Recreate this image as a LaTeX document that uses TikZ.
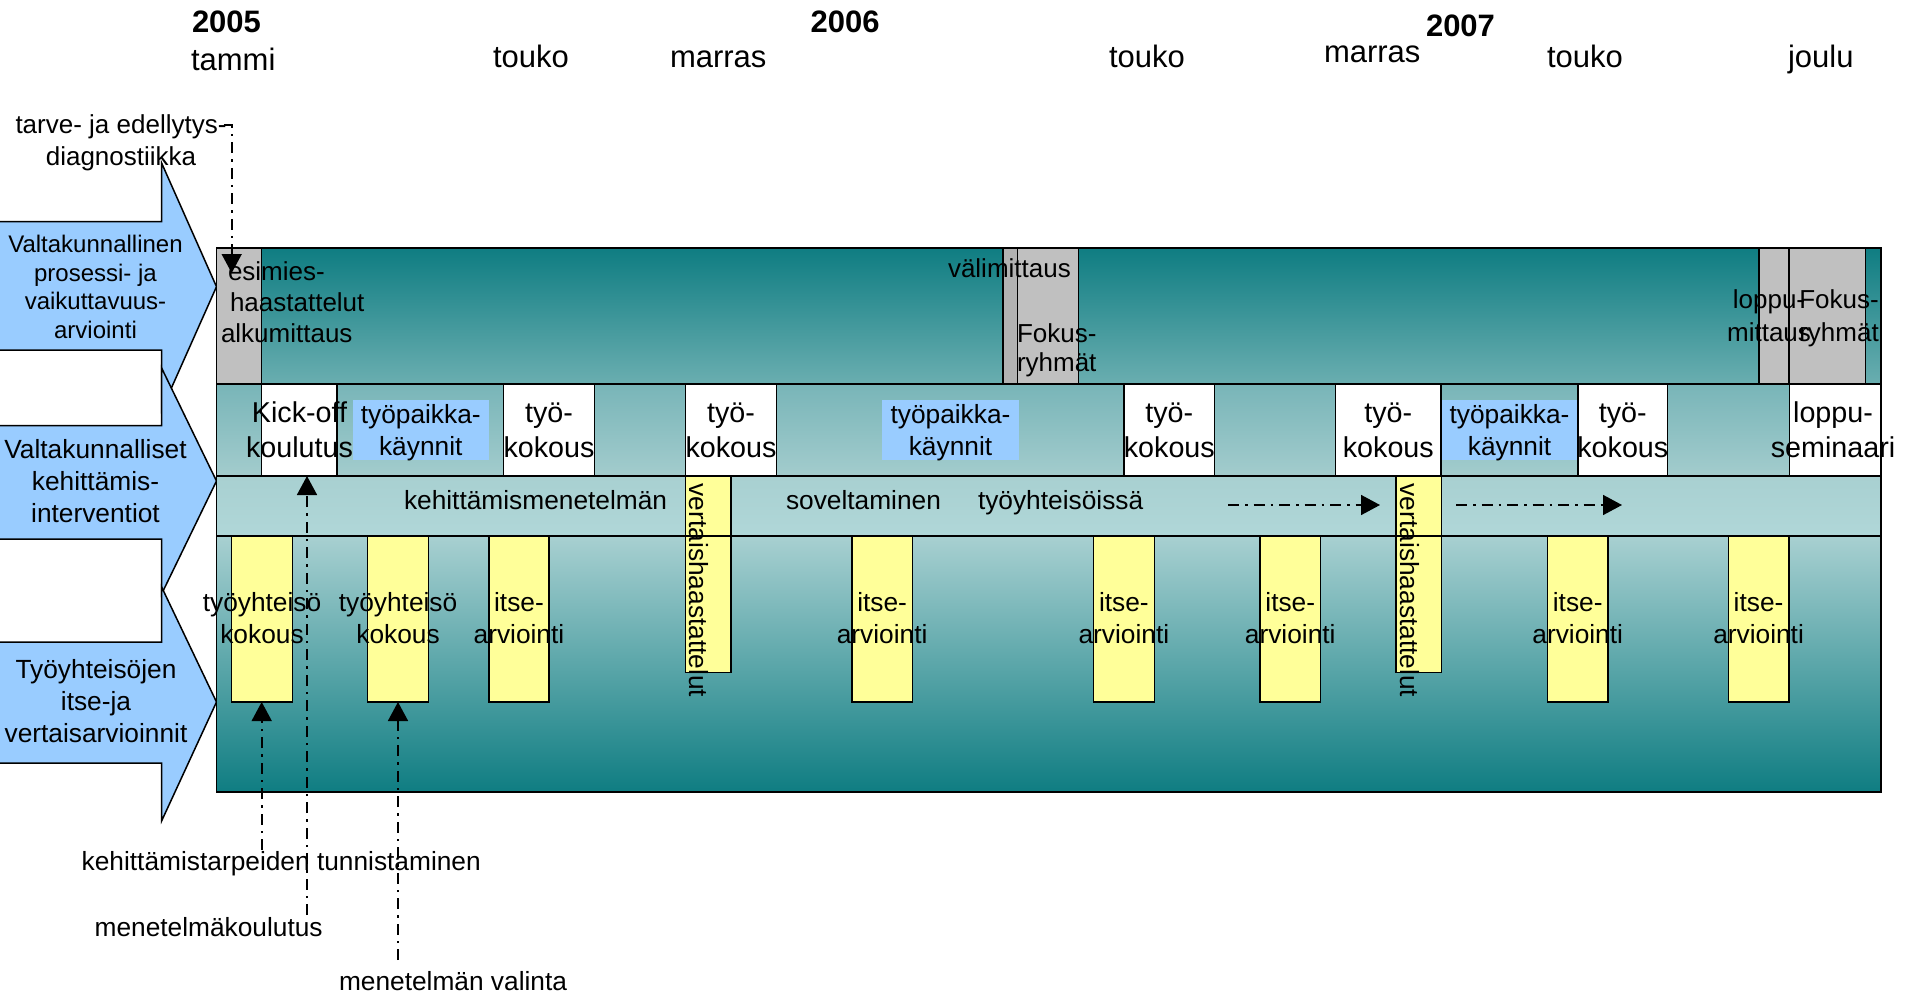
\documentclass[tikz,border=0pt]{standalone}
\usepackage{fontspec}
\setmainfont{Liberation Sans}
\usetikzlibrary{arrows.meta,fit}
\definecolor{tealD}{RGB}{15,125,130}
\definecolor{tealB}{RGB}{106,174,176}
\definecolor{tealC}{RGB}{120,181,184}
\definecolor{tealE}{RGB}{163,204,205}
\definecolor{tealF}{RGB}{168,208,209}
\definecolor{tealG}{RGB}{176,215,216}
\definecolor{ablue}{RGB}{153,204,255}
\definecolor{yel}{RGB}{255,255,153}
\definecolor{grayA}{RGB}{192,192,192}
\definecolor{grayB}{RGB}{178,178,178}
\tikzset{
  tx/.style={inner sep=0pt, outer sep=0pt, text=black},
  fa/.style={tx, font={\fontsize{24}{28.4}\selectfont}},
  fb/.style={tx, font={\fontsize{26.3}{32}\selectfont}},
  fc/.style={tx, font={\fontsize{28.7}{35.7}\selectfont}},
  fm/.style={tx, font={\fontsize{31}{36}\selectfont}},
  fy/.style={tx, font={\fontsize{31}{36}\selectfont\bfseries}},
  bxbase/.style={inner sep=0pt, outer sep=0pt, line width=1.5pt},
  gbox/.style={bxbase, draw=black, fill=grayA},
  gboxb/.style={bxbase, draw=black, fill=grayB},
  wbox/.style={bxbase, draw=black, fill=white},
  bbox/.style={bxbase, fill=ablue},
  ybox/.style={bxbase, draw=black, fill=yel},
  bigarrow/.style={draw=black, fill=ablue, line width=1.5pt},
  dd/.style={line width=1.6pt, dash pattern=on 11pt off 6pt on 2.5pt off 6pt},
  arr/.style={-{Triangle[length=19pt,width=20pt]}},
}
\begin{document}
\begin{tikzpicture}[x=1pt,y=-1pt]
\useasboundingbox (0,0) rectangle (1905,996);

% ---- left block arrows
\draw[bigarrow] (-5,221.7) -- (161.6,221.7) -- (161.6,163) -- (216.5,286.7) -- (161.6,410) -- (161.6,350) -- (-5,350) -- cycle;
\draw[bigarrow] (-5,425.7) -- (161.6,425.7) -- (161.6,368) -- (216.5,481) -- (161.6,594) -- (161.6,539) -- (-5,539) -- cycle;
\draw[bigarrow] (-5,642) -- (161.6,642) -- (161.6,587) -- (216.5,702) -- (161.6,821) -- (161.6,763) -- (-5,763) -- cycle;

% ---- bands of the main box
\shade[top color=tealD, bottom color=tealB] (216.5,248) rectangle (1881,384);
\shade[top color=tealC, bottom color=tealE] (216.5,384) rectangle (1881,476);
\shade[top color=tealF, bottom color=tealG] (216.5,476) rectangle (1881,536);
\shade[top color=tealF, bottom color=tealD] (216.5,536) rectangle (1881,792);

% ---- grey measurement boxes
\node[gbox,  fit={(216.5,248) (261.5,384)}] (g1) {};
\node[gboxb, fit={(1003,248) (1017.5,384)}] (g2) {};
\node[gbox,  fit={(1017.5,248) (1078.5,384)}] (g3) {};
\node[gbox,  fit={(1759,248) (1789,384)}] (g4) {};
\node[gbox,  fit={(1789,248) (1865.5,384)}] (g5) {};

% ---- white boxes
\node[wbox, fit={(261.5,384) (337,476)}] (w1) {};
\node[wbox, fit={(503.5,384) (594.5,476)}] (w2) {};
\node[wbox, fit={(685.5,384) (776.5,476)}] (w3) {};
\node[wbox, fit={(1124,384) (1214.5,476)}] (w4) {};
\node[wbox, fit={(1335.5,384) (1441,476)}] (w5) {};
\node[wbox, fit={(1578,384) (1667.5,476)}] (w6) {};
\node[wbox, fit={(1789.5,384) (1881,476)}] (w7) {};

% ---- blue boxes
\node[bbox, fit={(352.7,400) (488.8,460)}] (b1) {};
\node[bbox, fit={(882,400) (1019,460)}] (b2) {};
\node[bbox, fit={(1442,400) (1577,460)}] (b3) {};

% ---- peer interview boxes
\node[ybox, fit={(685.7,476) (731,672.3)}] (v1) {};
\node[ybox, fit={(1396,476) (1441.3,672.3)}] (v2) {};

% ---- self assessment boxes
\node[ybox, fit={(231.5,536) (292.5,702)}] (y1) {};
\node[ybox, fit={(367.5,536) (428.6,702)}] (y2) {};
\node[ybox, fit={(488.8,536) (549.1,702)}] (y3) {};
\node[ybox, fit={(851.8,536) (912.5,702)}] (y4) {};
\node[ybox, fit={(1093.3,536) (1154.5,702)}] (y5) {};
\node[ybox, fit={(1260,536) (1320.5,702)}] (y6) {};
\node[ybox, fit={(1547.4,536) (1608,702)}] (y7) {};
\node[ybox, fit={(1728.3,536) (1788.8,702)}] (y8) {};

% ---- band separators and frame
\draw[line width=1.5pt] (216.5,384) -- (1881,384);
\draw[line width=1.5pt] (216.5,476) -- (1881,476);
\draw[line width=1.5pt] (216.5,536) -- (1881,536);
\draw[line width=1.8pt] (216.5,248) rectangle (1881,792);

% ---- time axis
\node[fy, anchor=base west] (y2005) at (192,32) {2005};
\node[fm, anchor=base west] (m1) at (191,70) {tammi};
\node[fm, anchor=base west] (m2) at (493,67) {touko};
\node[fm, anchor=base west] (m3) at (670,67) {marras};
\node[fy, anchor=base west] (y2006) at (810.7,32) {2006};
\node[fm, anchor=base west] (m4) at (1109,67) {touko};
\node[fm, anchor=base west] (m5) at (1324,62) {marras};
\node[fy, anchor=base west] (y2007) at (1426,36) {2007};
\node[fm, anchor=base west] (m6) at (1547,67) {touko};
\node[fm, anchor=base west] (m7) at (1788,67) {joulu};

% ---- arrow labels (base = last line)
\node[fa, align=center, anchor=base] (la1) at (95.5,338) {Valtakunnallinen\\prosessi- ja\\vaikuttavuus-\\arviointi};
\node[fb, align=center, anchor=base] (la2) at (95.5,522.5) {Valtakunnalliset\\kehittämis-\\interventiot};
\node[fb, align=center, anchor=base] (la3) at (96,742.7) {Työyhteisöjen\\itse-ja\\vertaisarvioinnit};

% ---- top band texts
\node[tx, font={\fontsize{26}{31}\selectfont}, align=left, anchor=base west] (t1) at (221,342.7) {\hspace*{7pt}esimies-\\\hspace*{9pt}haastattelut\\alkumittaus};
\node[tx, font={\fontsize{26}{31}\selectfont}, anchor=base west] (t2) at (948,277) {välimittaus};
\node[tx, font={\fontsize{26}{29}\selectfont}, align=left, anchor=base west] (t3) at (1017,371.7) {Fokus-\\ryhmät};
\node[tx, font={\fontsize{26}{33}\selectfont}, align=center, anchor=base] (t4) at (1769,341.7) {loppu-\\mittaus};
\node[tx, font={\fontsize{26}{33}\selectfont}, align=center, anchor=base] (t5) at (1839,341.7) {Fokus-\\ryhmät};

% ---- second band texts
\node[fc, align=center, anchor=base] (tw1) at (299.5,457.7) {Kick-off\\koulutus};
\node[fc, align=center, anchor=base] (tw2) at (549,457.7) {työ-\\kokous};
\node[fc, align=center, anchor=base] (tw3) at (731,457.7) {työ-\\kokous};
\node[fc, align=center, anchor=base] (tw4) at (1169.3,457.7) {työ-\\kokous};
\node[fc, align=center, anchor=base] (tw5) at (1388.3,457.7) {työ-\\kokous};
\node[fc, align=center, anchor=base] (tw6) at (1622.8,457.7) {työ-\\kokous};
\node[fc, align=center, anchor=base] (tw7) at (1833,457.7) {loppu-\\seminaari};
\node[fb, align=center, anchor=base] (tb1) at (b1.center |- 0,455) {työpaikka-\\käynnit};
\node[fb, align=center, anchor=base] (tb2) at (b2.center |- 0,455) {työpaikka-\\käynnit};
\node[fb, align=center, anchor=base] (tb3) at (b3.center |- 0,455) {työpaikka-\\käynnit};

% ---- stripe texts
\node[fb, anchor=base west] (s1t) at (404,509.5) {kehittämismenetelmän};
\node[fb, anchor=base west] (s2t) at (786,509.5) {soveltaminen};
\node[fb, anchor=base west] (s3t) at (978,509.5) {työyhteisöissä};

% ---- vertical texts
\node[fb, rotate=-90, anchor=base] (tv1) at (689.5,590.5) {vertaishaastattelut};
\node[fb, rotate=-90, anchor=base] (tv2) at (1400,590.5) {vertaishaastattelut};

% ---- bottom box texts
\node[fb, align=center, anchor=base] (ty1) at (y1.center |- 0,643.3) {työyhteisö\\kokous};
\node[fb, align=center, anchor=base] (ty2) at (y2.center |- 0,643.3) {työyhteisö\\kokous};
\node[fb, align=center, anchor=base] (ty3) at (y3.center |- 0,643.3) {itse-\\arviointi};
\node[fb, align=center, anchor=base] (ty4) at (y4.center |- 0,643.3) {itse-\\arviointi};
\node[fb, align=center, anchor=base] (ty5) at (y5.center |- 0,643.3) {itse-\\arviointi};
\node[fb, align=center, anchor=base] (ty6) at (y6.center |- 0,643.3) {itse-\\arviointi};
\node[fb, align=center, anchor=base] (ty7) at (y7.center |- 0,643.3) {itse-\\arviointi};
\node[fb, align=center, anchor=base] (ty8) at (y8.center |- 0,643.3) {itse-\\arviointi};

% ---- outside labels
\node[tx, font={\fontsize{26}{32}\selectfont}, align=center, anchor=base] (tarve) at (121,165) {tarve- ja edellytys-\\diagnostiikka};
\node[fb, anchor=base west] (lk1) at (81.7,870) {kehittämistarpeiden tunnistaminen};
\node[fb, anchor=base west] (lk2) at (94.6,936.7) {menetelmäkoulutus};
\node[fb, anchor=base west] (lk3) at (339,990) {menetelmän valinta};

% ---- connectors
\coordinate (c0) at (223.5,125);
\coordinate (c0e) at (231.7,273);
\draw[dd, arr] (c0) -| (c0e);
\coordinate (k1) at (261.7,850);
\draw[dd, arr] (k1) -- (k1 |- y1.south);
\coordinate (k2) at (307,915);
\draw[dd, arr] (k2) -- (k2 |- w1.south);
\coordinate (k3) at (398,960);
\draw[dd, arr] (k3) -- (k3 |- y2.south);
\coordinate (d1) at (1228,505);
\coordinate (d1e) at (1380,505);
\draw[dd, arr] (d1) -- (d1e);
\coordinate (d2) at (1456,505);
\coordinate (d2e) at (1622,505);
\draw[dd, arr] (d2) -- (d2e);
\end{tikzpicture}
\end{document}
